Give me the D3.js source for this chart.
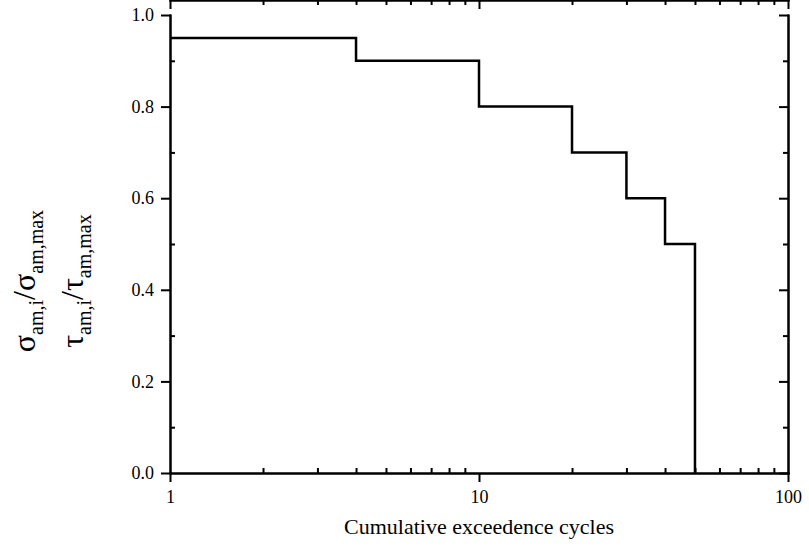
<!DOCTYPE html>
<html>
<head>
<meta charset="utf-8">
<script src="https://cdn.jsdelivr.net/npm/d3@7"></script>
<style>
  body { margin: 0; background: #fff; }
  .axis path, .axis line { stroke: #000; stroke-width: 2; }
</style>
</head>
<body>
<div id="chart"></div>
<script>
// step data: cumulative exceedence cycles vs amplitude ratio
var cycles = [1, 4, 10, 20, 30, 40, 50];
var ratio = [0.95, 0.9, 0.8, 0.7, 0.6, 0.5, 0.0];
var xMajor = [1, 10, 100];
var xMinor = [2, 3, 4, 5, 6, 7, 8, 9, 20, 30, 40, 50, 60, 70, 80, 90];
var yMajor = [0, 0.2, 0.4, 0.6, 0.8, 1.0];
var yMinor = [0.1, 0.3, 0.5, 0.7, 0.9];

var serif = '"Liberation Serif", "Times New Roman", Times, "DejaVu Serif", serif';
var width = 809, height = 546;
var margin = {left: 170, right: 21, top: 15, bottom: 73};

var svg = d3.select('#chart').append('svg')
    .attr('width', width)
    .attr('height', height)
    .attr('font-family', serif);

var x = d3.scaleLog().domain([1, 100]).range([margin.left, width - margin.right]);
var y = d3.scaleLinear().domain([0, 1]).range([height - margin.bottom, margin.top]);

function drawAxis(axis, tf) {
  var g = svg.append('g').attr('class', 'axis')
      .attr('transform', tf)
      .call(axis);
  g.attr('font-family', serif).attr('font-size', 18);
  g.selectAll('text').attr('fill', '#000');
}

var bottom = 'translate(0,' + y(0) + ')',
    top = 'translate(0,' + y(1) + ')',
    left = 'translate(' + x(1) + ',0)',
    right = 'translate(' + x(100) + ',0)';

// minor ticks first (inward), then majors
drawAxis(d3.axisBottom(x).tickValues(xMinor).tickSize(-5).tickSizeOuter(0).tickFormat(''), bottom);
drawAxis(d3.axisTop(x).tickValues(xMinor).tickSize(-5).tickSizeOuter(0).tickFormat(''), top);
drawAxis(d3.axisLeft(y).tickValues(yMinor).tickSize(-5).tickSizeOuter(0).tickFormat(''), left);
drawAxis(d3.axisRight(y).tickValues(yMinor).tickSize(-5).tickSizeOuter(0).tickFormat(''), right);

drawAxis(d3.axisBottom(x).tickValues(xMajor).tickSize(9).tickSizeOuter(0).tickPadding(8)
    .tickFormat(d3.format('d')), bottom);
drawAxis(d3.axisTop(x).tickValues(xMajor).tickSize(-9).tickSizeOuter(0).tickFormat(''), top);
drawAxis(d3.axisLeft(y).tickValues(yMajor).tickSize(9).tickSizeOuter(0).tickPadding(7)
    .tickFormat(d3.format('.1f')), left);
drawAxis(d3.axisRight(y).tickValues(yMajor).tickSize(-9).tickSizeOuter(0).tickFormat(''), right);

svg.selectAll('.axis .domain').attr('stroke-linecap', 'square');

// the stepped curve
var pts = cycles.map(function (c, i) { return [c, ratio[i]]; });
var line = d3.line()
    .x(function (d) { return x(d[0]); })
    .y(function (d) { return y(d[1]); })
    .curve(d3.curveStepAfter);

svg.append('path')
    .datum(pts)
    .attr('d', line)
    .attr('fill', 'none')
    .attr('stroke', '#000')
    .attr('stroke-width', 2.5);

// x title
svg.append('text')
    .attr('x', x(10))
    .attr('y', 534)
    .attr('text-anchor', 'middle')
    .attr('font-size', 22)
    .text('Cumulative exceedence cycles');

// y title, two lines with subscripts
function yLabel(xPos, sym) {
  var t = svg.append('text')
      .attr('transform', 'translate(' + xPos + ',281) rotate(-90)')
      .attr('text-anchor', 'middle')
      .attr('font-size', 32);
  t.append('tspan').text(sym);
  t.append('tspan').attr('font-size', 20).attr('dy', 8).text('am,i');
  t.append('tspan').attr('dy', -8).text('/' + sym);
  t.append('tspan').attr('font-size', 20).attr('dy', 8).text('am,max');
}
yLabel(35, 'σ');
yLabel(83, 'τ');
</script>
</body>
</html>
